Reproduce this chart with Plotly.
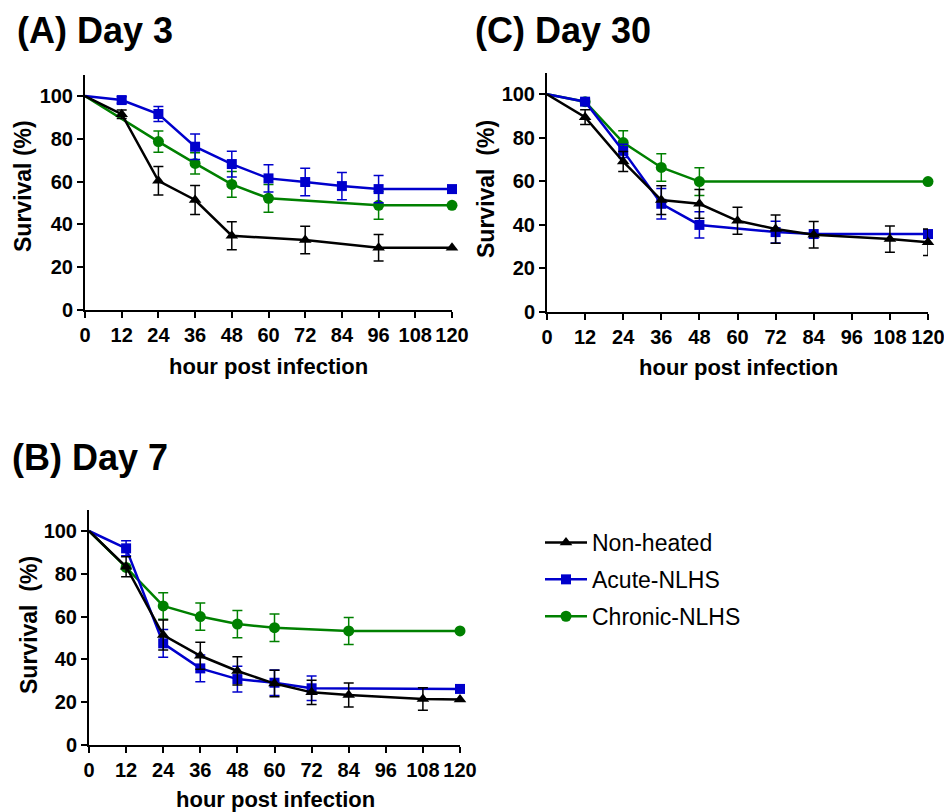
import plotly.graph_objects as go

# ---------------- data ----------------
series_names = ["Non-heated", "Acute-NLHS", "Chronic-NLHS"]
xticks = [0, 12, 24, 36, 48, 60, 72, 84, 96, 108, 120]
yticks = [0, 20, 40, 60, 80, 100]

# Panel A: Day 3
A_nh_x = [0, 12, 24, 36, 48, 72, 96, 120]
A_nh_y = [100, 91.5, 60.4, 51.4, 34.7, 32.7, 29.1, 29.1]
A_nh_e = [None, 2.0, 6.7, 6.8, 6.5, 6.4, 6.2, None]
A_ac_x = [0, 12, 24, 36, 48, 60, 72, 84, 96, 120]
A_ac_y = [100, 98.1, 91.6, 76.3, 68.2, 61.5, 59.8, 57.9, 56.5, 56.5]
A_ac_e = [None, 1.5, 3.5, 6.0, 6.0, 6.4, 6.4, 6.4, 6.4, None]
A_ch_x = [0, 24, 36, 48, 60, 96, 120]
A_ch_y = [100, 78.7, 68.5, 58.7, 52.2, 48.9, 48.9]
A_ch_e = [None, 5.0, 5.0, 6.0, 6.5, 6.5, None]

# Panel C: Day 30
C_nh_x = [0, 12, 24, 36, 48, 60, 72, 84, 108, 120]
C_nh_y = [100, 89.5, 69.1, 51.4, 49.7, 41.9, 38.1, 35.5, 33.5, 32.0]
C_nh_e = [None, 3.4, 4.6, 6.6, 6.6, 6.2, 6.5, 6.1, 6.0, 6.1]
C_ac_x = [0, 12, 24, 36, 48, 72, 84, 120]
C_ac_y = [100, 96.6, 74.0, 49.7, 40.0, 36.7, 35.8, 35.8]
C_ac_e = [None, 1.5, 3.0, 7.0, 6.0, 5.0, None, None]
C_ch_x = [0, 12, 24, 36, 48, 120]
C_ch_y = [100, 96.6, 77.8, 66.4, 59.9, 59.9]
C_ch_e = [None, None, 5.4, 6.3, 6.4, None]

# Panel B: Day 7
B_nh_x = [0, 12, 24, 36, 48, 60, 72, 84, 108, 120]
B_nh_y = [100, 83.3, 51.4, 41.7, 34.6, 28.7, 24.6, 23.4, 21.5, 21.3]
B_nh_e = [None, 4.7, 7.0, 6.3, 6.6, 6.2, 5.7, 5.6, 5.3, None]
B_ac_x = [0, 12, 24, 36, 48, 60, 72, 120]
B_ac_y = [100, 91.9, 47.5, 35.8, 30.8, 29.1, 26.5, 26.2]
B_ac_e = [None, 3.5, 6.5, 6.2, 6.0, 6.0, 5.7, None]
B_ch_x = [0, 12, 24, 36, 48, 60, 84, 120]
B_ch_y = [100, 83.0, 65.0, 60.0, 56.5, 54.8, 53.3, 53.3]
B_ch_e = [None, None, 6.2, 6.4, 6.4, 6.4, 6.3, None]

panel_titles = ["(A) Day 3", "(C) Day 30", "(B) Day 7"]
ytitles = ["Survival (%)", "Survival  (%)", "Survival  (%)"]
xtitle = "hour post infection"

# ---------------- style ----------------
OFF = 8                      # default page body margin
W, H = 952 - OFF, 812 - OFF
FONT = "Liberation Sans, Arial, sans-serif"
colors = {"Non-heated": "#000000", "Acute-NLHS": "#0000CC", "Chronic-NLHS": "#008000"}
symbols = {"Non-heated": "triangle-up", "Acute-NLHS": "square", "Chronic-NLHS": "circle"}
msize = {"Non-heated": 11, "Acute-NLHS": 10, "Chronic-NLHS": 11}


def fx(px):
    return (px - OFF) / W


def fy(py):
    return 1 - (py - OFF) / H


panels = [
    {"data": {"Non-heated": (A_nh_x, A_nh_y, A_nh_e), "Acute-NLHS": (A_ac_x, A_ac_y, A_ac_e),
              "Chronic-NLHS": (A_ch_x, A_ch_y, A_ch_e)},
     "px": (85, 452), "py": (74.6, 310), "xa": "x", "ya": "y",
     "xt": (268, 366), "yt": (23, 186), "tt": (15, 30)},
    {"data": {"Non-heated": (C_nh_x, C_nh_y, C_nh_e), "Acute-NLHS": (C_ac_x, C_ac_y, C_ac_e),
              "Chronic-NLHS": (C_ch_x, C_ch_y, C_ch_e)},
     "px": (547, 928), "py": (72.5, 312), "xa": "x2", "ya": "y2",
     "xt": (738, 368), "yt": (486, 189), "tt": (473, 30)},
    {"data": {"Non-heated": (B_nh_x, B_nh_y, B_nh_e), "Acute-NLHS": (B_ac_x, B_ac_y, B_ac_e),
              "Chronic-NLHS": (B_ch_x, B_ch_y, B_ch_e)},
     "px": (89, 460), "py": (509.6, 745), "xa": "x3", "ya": "y3",
     "xt": (275, 799), "yt": (29, 625), "tt": (10, 458)},
]

fig = go.Figure()
draw_order = ["Chronic-NLHS", "Acute-NLHS", "Non-heated"]

for p in panels:
    for name in draw_order:
        xs, ys, es = p["data"][name]
        c = colors[name]
        # connecting line (no marker at origin)
        fig.add_trace(go.Scatter(
            x=xs, y=ys, mode="lines", line=dict(color=c, width=2.5),
            xaxis=p["xa"], yaxis=p["ya"], showlegend=False, cliponaxis=False,
            hoverinfo="skip"))
        # markers + error bars (all points except time 0)
        mx = [x for x in xs if x != 0]
        my = [y for x, y in zip(xs, ys) if x != 0]
        me = [(e if e is not None else 0) for x, e in zip(xs, es) if x != 0]
        fig.add_trace(go.Scatter(
            x=mx, y=my, mode="markers",
            marker=dict(symbol=symbols[name], size=msize[name], color=c, line=dict(width=0)),
            error_y=dict(type="data", array=me, visible=True, color=c, thickness=1.5, width=5),
            xaxis=p["xa"], yaxis=p["ya"], showlegend=False, cliponaxis=False, name=name))

# legend entries
for rank, name in enumerate(series_names):
    fig.add_trace(go.Scatter(
        x=[None], y=[None], mode="lines+markers", name=name,
        line=dict(color=colors[name], width=2.5),
        marker=dict(symbol=symbols[name], size=msize[name], color=colors[name]),
        legendgroup=name, legendrank=rank + 1, xaxis="x", yaxis="y"))

axis_common = dict(
    showgrid=False, zeroline=False, showline=True, linecolor="black", linewidth=2,
    ticks="outside", ticklen=6, tickwidth=2, tickcolor="black", tickangle=0,
    tickfont=dict(family=FONT, size=20, color="black", weight="bold"),
    fixedrange=True, automargin=False)

layout = dict(
    width=W, height=H, margin=dict(l=0, r=0, t=0, b=0, autoexpand=False),
    paper_bgcolor="white", plot_bgcolor="white",
    font=dict(family=FONT, color="black"),
    legend=dict(x=fx(540), y=fy(521), xanchor="left", yanchor="top",
                font=dict(family=FONT, size=23, color="black"),
                tracegroupgap=4, itemwidth=42, bgcolor="rgba(0,0,0,0)"),
    annotations=[],
)

for i, p in enumerate(panels):
    sfx = "" if i == 0 else str(i + 1)
    x0, x1 = p["px"]
    ytop, ybot = p["py"]
    layout["xaxis" + sfx] = dict(
        axis_common, domain=[fx(x0), fx(x1)], range=[0, 120], tickvals=xticks,
        anchor=p["ya"])
    layout["yaxis" + sfx] = dict(
        axis_common, domain=[fy(ybot), fy(ytop)], range=[0, 110], tickvals=yticks,
        anchor=p["xa"])
    # axis titles
    layout["annotations"].append(dict(
        text=xtitle, x=fx(p["xt"][0]), y=fy(p["xt"][1]), xref="paper", yref="paper",
        xanchor="center", yanchor="middle", showarrow=False,
        font=dict(family=FONT, size=22, color="black", weight="bold")))
    layout["annotations"].append(dict(
        text=ytitles[i], x=fx(p["yt"][0]), y=fy(p["yt"][1]), xref="paper", yref="paper",
        xanchor="center", yanchor="middle", showarrow=False, textangle=-90,
        font=dict(family=FONT, size=23, color="black", weight="bold")))
    # panel title
    layout["annotations"].append(dict(
        text=panel_titles[i], x=fx(p["tt"][0]), y=fy(p["tt"][1]), xref="paper", yref="paper",
        xanchor="left", yanchor="middle", showarrow=False,
        font=dict(family=FONT, size=36, color="black", weight="bold")))

fig.update_layout(**layout)
fig.write_html("out.html")
